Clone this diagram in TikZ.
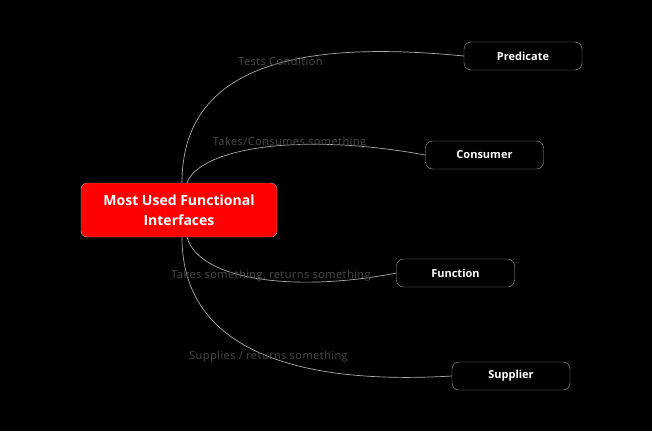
\documentclass[tikz,border=0pt]{standalone}
\usepackage{fontspec}
\setmainfont{Open Sans}
\usepackage{tikz}
\usetikzlibrary{positioning}

\begin{document}
\begin{tikzpicture}[x=1pt, y=-1pt]
      \tikzset{
        root/.style={
          draw=gray!70, fill=red, rounded corners=6pt, text=white,
          font=\fontsize{14}{20}\selectfont\bfseries, align=center,
          minimum width=196pt, minimum height=54pt, inner sep=0pt
        },
        leaf/.style={
          draw=gray!75, fill=black, rounded corners=7pt, text=white,
          font=\fontsize{11}{13}\selectfont\bfseries,
          minimum width=118pt, minimum height=28pt, inner sep=0pt
        },
        branch/.style={draw=gray!65, line width=0.7pt},
        tag/.style={text=gray!60!black,
          font=\fontsize{11}{13}\selectfont\addfontfeatures{LetterSpace=4}, inner sep=0pt}
      }
      \fill[black] (0,0) rectangle (652,431);
      \useasboundingbox (0,0) rectangle (652,431);
      \node[root] (root) at (179,210) {Most Used Functional\\Interfaces};
      \node[leaf] (pred) at (523,56) {Predicate};
      \node[leaf] (cons) at (484.5,155) {Consumer};
      \node[leaf] (func) at (455.5,273) {Function};
      \node[leaf] (supp) at (511,376) {Supplier};
      % branches
      \draw[branch] ([xshift=3pt]root.north) .. controls (182,55) and (320,42) .. (pred.west);
      \draw[branch] ([xshift=8pt]root.north) .. controls (200,148) and (300,132) .. (cons.west);
      \draw[branch] ([xshift=8pt]root.south) .. controls (200,282) and (300,292) .. (func.west);
      \draw[branch] ([xshift=3pt]root.south) .. controls (182,352) and (300,385) .. (supp.west);
      % labels
      \node[tag] (tpred) at (280.5,61) {Tests Condition};
      \node[tag] (tcons) at (289.5,143) {Takes/Consumes something};
      \node[tag] (tfunc) at (271,276) {Takes something, returns something};
      \node[tag] (tsupp) at (268.5,357) {Supplies / returns something};
    \end{tikzpicture}
\end{document}
